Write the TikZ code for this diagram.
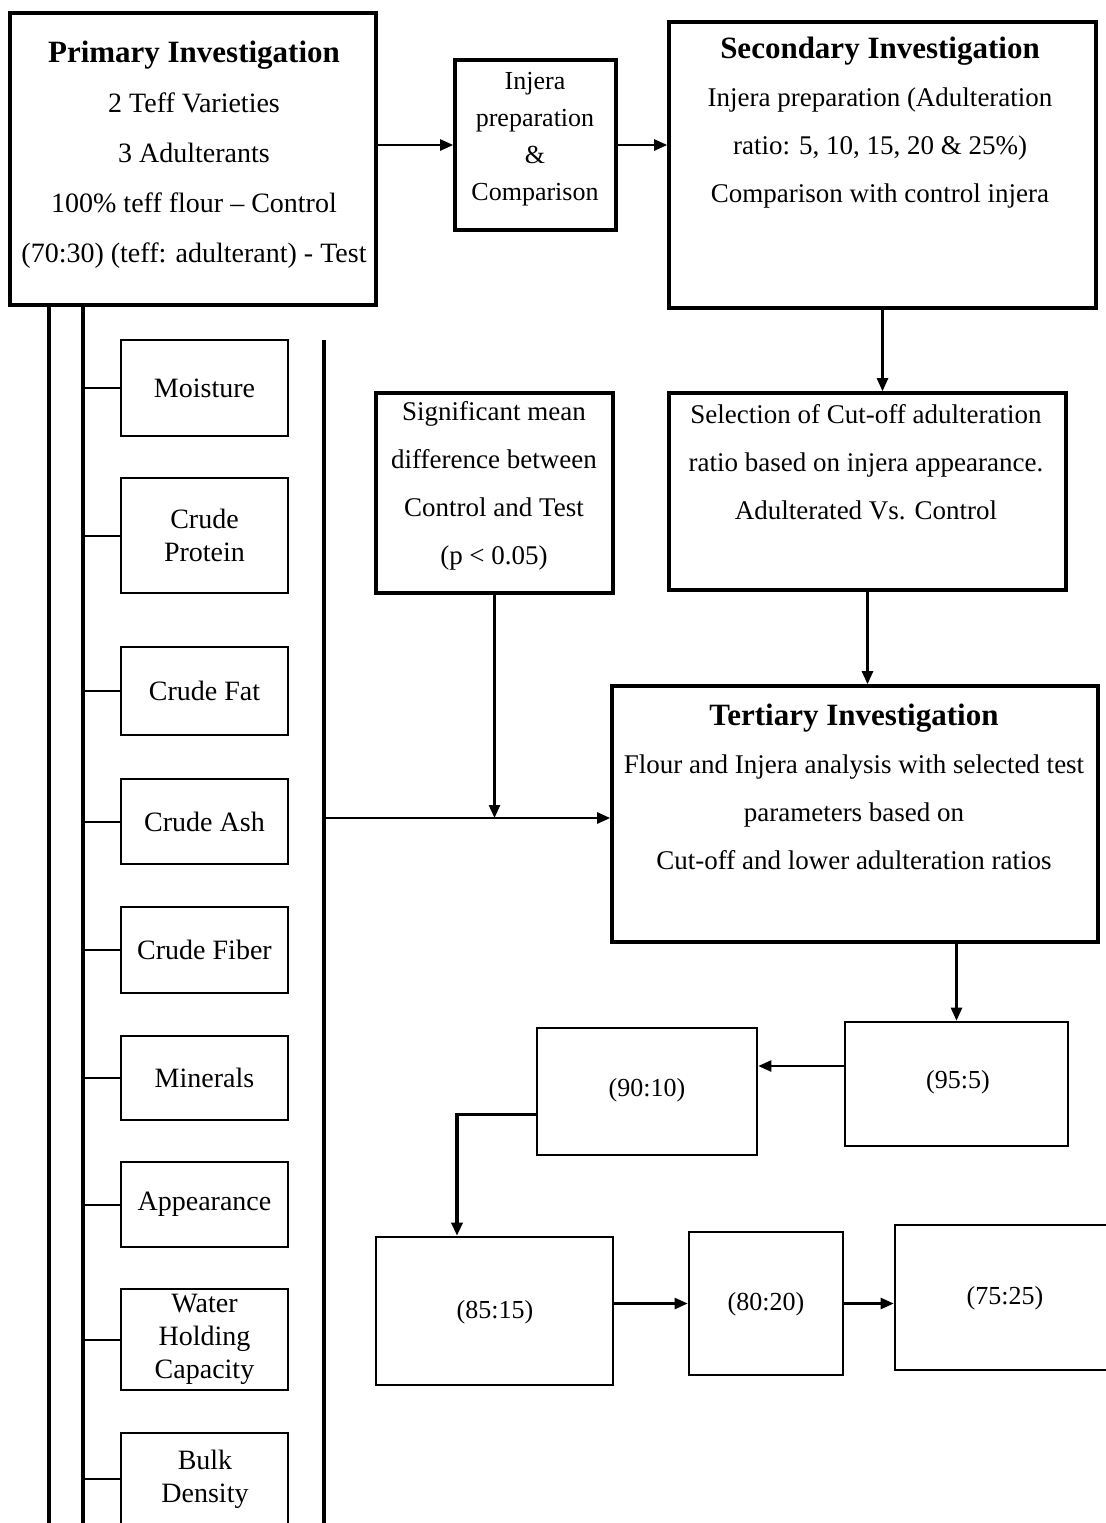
\documentclass[tikz,border=0pt]{standalone}
\usepackage{fontspec}
\setmainfont{Liberation Serif}
\usetikzlibrary{arrows.meta,fit}
\newcommand\headtxt[1]{{\fontsize{15.5}{25}\selectfont\bfseries #1}}
\begin{document}
\begin{tikzpicture}[x=0.5pt,y=-0.5pt,
  thickbox/.style={draw, line width=1.8pt, inner sep=0pt},
  thinbox/.style={draw, line width=1pt, inner sep=0pt},
  ratbox/.style={draw, line width=1.3pt, inner sep=0pt},
  partext/.style={align=center, inner sep=0pt, font=\fontsize{14}{16.5}\selectfont},
  rattext/.style={inner sep=0pt, font=\fontsize{13}{16}\selectfont},
  bodytext/.style={align=center, inner sep=0pt, font=\fontsize{13.5}{24}\selectfont},
  arr/.style={-{Triangle[length=6.5pt,width=5.5pt]}, line width=1.2pt},
  trunk/.style={line width=1.8pt},
  branch/.style={line width=1pt}]
\useasboundingbox (0,0) rectangle (1106,1523);
\clip (0,0) rectangle (1106,1523);
\fill[white] (0,0) rectangle (1106,1523);

% main boxes
\node[thickbox, fit={(10,13) (376,305)}] (prim) {};
\node[bodytext, font=\fontsize{14}{25}\selectfont] (primtxt) at (194,155)
  {\headtxt{Primary Investigation}\\2 Teff Varieties\\3 Adulterants\\100\% teff flour – Control\\(70:30) (teff: adulterant) - Test};

\node[thickbox, fit={(455,60) (616,230)}] (inj) {};
\node[bodytext, font=\fontsize{13}{18.5}\selectfont] (injtxt) at (535,139)
  {Injera\\preparation\\\&\\Comparison};

\node[thickbox, fit={(669,22) (1096,308)}] (sec) {};
\node[bodytext] (sectxt) at (880,123)
  {\headtxt{Secondary Investigation}\\Injera preparation (Adulteration\\ratio: 5, 10, 15, 20 \& 25\%)\\Comparison with control injera};

\node[thickbox, fit={(376,393) (613,593)}] (sig) {};
\node[bodytext] (sigtxt) at (494,486)
  {Significant mean\\difference between\\Control and Test\\(p < 0.05)};

\node[thickbox, fit={(669,393) (1066,590)}] (sel) {};
\node[bodytext] (seltxt) at (866,462)
  {Selection of Cut-off adulteration\\ratio based on injera appearance.\\Adulterated Vs. Control};

\node[thickbox, fit={(612,686) (1098,942)}] (ter) {};
\node[bodytext] (tertxt) at (854,787)
  {\headtxt{Tertiary Investigation}\\Flour and Injera analysis with selected test\\parameters based on\\Cut-off and lower adulteration ratios};

% parameter boxes
\node[thinbox, fit={(121,340) (288,436)}] (moist) {};
\node[thinbox, fit={(121,478) (288,593)}] (cprot) {};
\node[thinbox, fit={(121,647) (288,735)}] (cfat) {};
\node[thinbox, fit={(121,779) (288,864)}] (cash) {};
\node[thinbox, fit={(121,907) (288,993)}] (cfib) {};
\node[thinbox, fit={(121,1036) (288,1120)}] (minr) {};
\node[thinbox, fit={(121,1162) (288,1247)}] (appr) {};
\node[thinbox, fit={(121,1289) (288,1390)}] (whc) {};
\node[thinbox, fit={(121,1433) (288,1560)}] (bulk) {};
\node[partext] (moisttxt) at (moist.center) {Moisture};
\node[partext] (cprottxt) at (cprot.center) {Crude\\Protein};
\node[partext] (cfattxt) at (cfat.center) {Crude Fat};
\node[partext] (cashtxt) at (cash.center) {Crude Ash};
\node[partext] (cfibtxt) at (cfib.center) {Crude Fiber};
\node[partext] (minrtxt) at (minr.center) {Minerals};
\node[partext] (apprtxt) at (appr.center) {Appearance};
\node[partext] (whctxt) at (whc.center) {Water\\Holding\\Capacity};
\node[partext] (bulktxt) at (205,1479) {Bulk\\Density};

% ratio boxes
\node[ratbox, fit={(537,1028) (757,1155)}] (r90) {};
\node[ratbox, fit={(845,1022) (1068,1146)}] (r95) {};
\node[ratbox, fit={(376,1237) (613,1385)}] (r85) {};
\node[ratbox, fit={(689,1232) (843,1375)}] (r80) {};
\node[ratbox, fit={(895,1225) (1115,1370)}] (r75) {};
\node[rattext] (r90txt) at (647,1090) {(90:10)};
\node[rattext] (r95txt) at (958,1082) {(95:5)};
\node[rattext] (r85txt) at (495,1312) {(85:15)};
\node[rattext] (r80txt) at (766,1304) {(80:20)};
\node[rattext] (r75txt) at (1005,1298) {(75:25)};

% left trunks
\coordinate (la) at (49,1523);
\coordinate (lb) at (83,1523);
\draw[trunk] (prim.south -| la) -- (la);
\draw[trunk] (prim.south -| lb) -- (lb);
\foreach \b in {moist,cprot,cfat,cash,cfib,minr,appr,whc}
  \draw[branch] (\b.west -| lb) -- (\b.west);
\coordinate (bulkw) at (121,1479);
\draw[branch] (bulkw -| lb) -- (bulkw);

% right trunk and join
\coordinate (vt) at (324,340);
\coordinate (vb) at (324,1523);
\coordinate (hs) at (324,818);
\draw[trunk] (vt) -- (vb);
\draw[arr] (hs) -- (hs -| ter.west);
\draw[arr] (sig.south) -- (sig.south |- hs);

% flow arrows
\draw[arr] (inj.west -| prim.east) -- (inj.west);
\draw[arr] (inj.east) -- (inj.east -| sec.west);
\draw[arr] (sec.south) -- (sec.south |- sel.north);
\draw[arr] (sel.south) -- (sel.south |- ter.north);
\draw[arr] (r95.north |- ter.south) -- (r95.north);
\draw[arr] ([yshift=9pt]r95.west) -- ([yshift=9pt]r95.west -| r90.east);
\draw[arr, line width=1.6pt] ([yshift=-11.5pt]r90.west) -| ([xshift=-18.75pt]r85.north);
\draw[arr] (r80.west -| r85.east) -- (r80.west);
\draw[arr] (r80.east) -- (r80.east -| r75.west);
\end{tikzpicture}
\end{document}
